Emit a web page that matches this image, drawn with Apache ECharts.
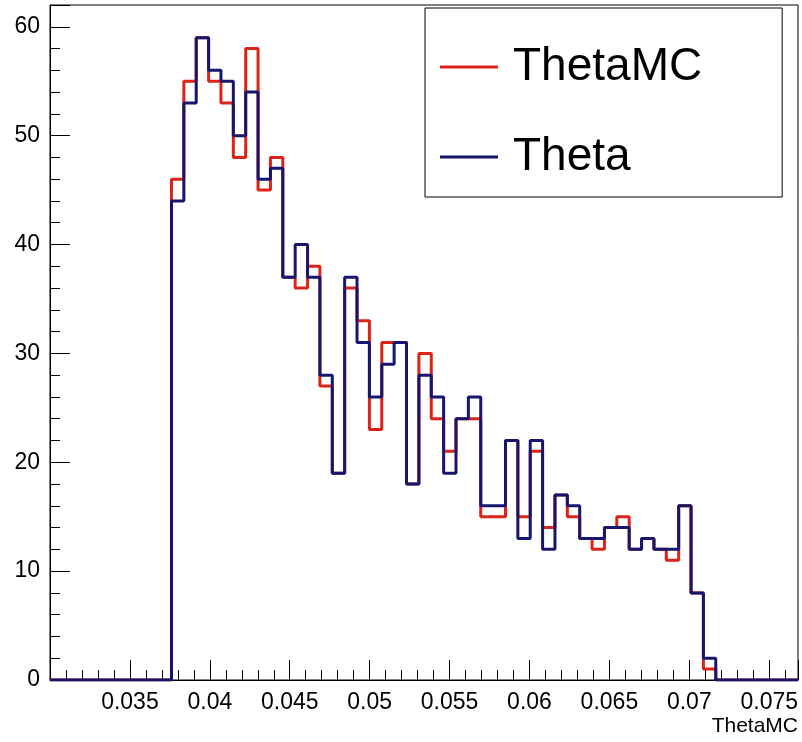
<!DOCTYPE html>
<html>
<head>
<meta charset="utf-8">
<title>ThetaMC</title>
<script src="https://cdn.jsdelivr.net/npm/echarts@6/dist/echarts.min.js"></script>
<style>
  html, body { margin: 0; padding: 0; background: #fff; }
  #chart { width: 802px; height: 742px; }
</style>
</head>
<body>
<div id="chart"></div>
<script>
// axis range and binning
var xMin = 0.03;
var xMax = 0.0768;
var binLow = 0.0376;
var binWidth = 0.000774;

// bin contents
var thetaMC = [46, 55, 59, 55, 53, 48, 58, 45, 48, 37, 36, 38, 27, 19, 36, 33, 23, 31, 31, 18, 30, 24,
               21, 24, 24, 15, 15, 22, 15, 21, 14, 17, 15, 13, 12, 14, 15, 12, 13, 12, 11, 16, 8, 1];
var theta   = [44, 53, 59, 56, 55, 50, 54, 46, 47, 37, 40, 37, 28, 19, 37, 31, 26, 29, 31, 18, 28, 26,
               19, 24, 26, 16, 16, 22, 13, 22, 12, 17, 16, 13, 13, 14, 14, 12, 13, 12, 12, 16, 8, 2];

// step outline of a histogram
function histPoints(vals) {
  var pts = [[xMin, 0], [binLow, 0]];
  for (var i = 0; i < vals.length; i++) {
    var lo = binLow + i * binWidth;
    pts.push([lo, vals[i]], [lo + binWidth, vals[i]]);
  }
  var hi = binLow + vals.length * binWidth;
  pts.push([hi, 0], [xMax, 0]);
  return pts;
}

var font = 'Liberation Sans, Arial, sans-serif';
var chart = echarts.init(document.getElementById('chart'));

var option = {
  animation: false,
  grid: {
    left: 50, right: 4, top: 5, bottom: 62,
    show: true, borderColor: '#000', borderWidth: 1, backgroundColor: '#fff'
  },
  legend: {
    orient: 'vertical',
    left: 425, top: 8,
    padding: [34, 80, 15, 15],
    itemGap: 40,
    itemWidth: 58, itemHeight: 3,
    icon: 'rect',
    borderColor: '#000', borderWidth: 1,
    backgroundColor: '#fff',
    textStyle: { fontFamily: font, fontSize: 46, color: '#000', lineHeight: 50, padding: [0, 0, 0, 10] },
    data: ['ThetaMC', 'Theta']
  },
  xAxis: {
    type: 'value',
    min: xMin, max: xMax, interval: 0.005,
    name: 'ThetaMC',
    nameLocation: 'end',
    nameGap: 0,
    nameTextStyle: { fontFamily: font, fontSize: 21, color: '#000', align: 'right', verticalAlign: 'top', padding: [36, 0, 0, 0] },
    axisLine: { lineStyle: { color: '#000', width: 1 } },
    axisTick: { inside: true, length: 20, lineStyle: { color: '#000' } },
    minorTick: { show: true, splitNumber: 5, length: 10, lineStyle: { color: '#000' } },
    splitLine: { show: false },
    axisLabel: {
      fontFamily: font, fontSize: 23, color: '#000', margin: 11,
      showMinLabel: false, showMaxLabel: false,
      formatter: function (v) { return String(+v.toFixed(3)); }
    }
  },
  yAxis: {
    type: 'value',
    min: 0, max: 62, interval: 10,
    axisLine: { show: true, lineStyle: { color: '#000', width: 1 } },
    axisTick: { show: true, inside: true, length: 20, lineStyle: { color: '#000' } },
    minorTick: { show: true, splitNumber: 5, length: 10, lineStyle: { color: '#000' } },
    splitLine: { show: false },
    axisLabel: { fontFamily: font, fontSize: 23, color: '#000', margin: 10, showMaxLabel: false }
  },
  series: [
    {
      name: 'ThetaMC', type: 'line', symbol: 'none',
      color: '#dd2218',
      lineStyle: { color: '#dd2218', width: 3 },
      data: histPoints(thetaMC)
    },
    {
      name: 'Theta', type: 'line', symbol: 'none',
      color: '#17166f',
      lineStyle: { color: '#17166f', width: 3 },
      data: histPoints(theta)
    }
  ]
};
chart.setOption(option);
</script>
</body>
</html>
